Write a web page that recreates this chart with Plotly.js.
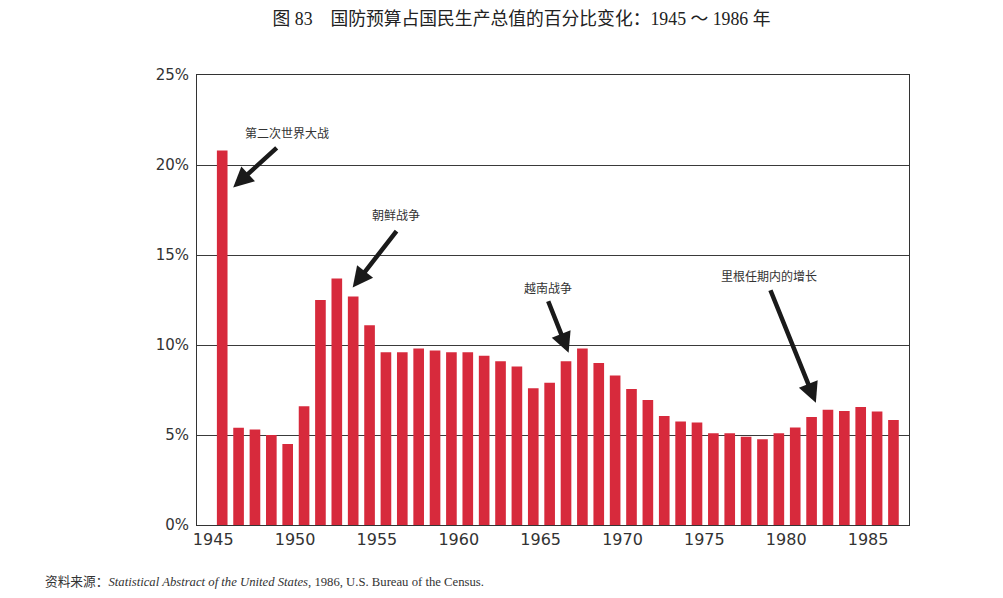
<!DOCTYPE html>
<html>
<head>
<meta charset="utf-8">
<script src="https://cdn.plot.ly/plotly-3.0.1.min.js"></script>
<style>html,body{margin:0;padding:0;background:#fff;}#chart{width:1003px;height:598px;}</style>
</head>
<body>
<div id="chart"></div>
<script>
// Data
const years = [1945,1946,1947,1948,1949,1950,1951,1952,1953,1954,1955,1956,1957,1958,1959,1960,1961,1962,1963,1964,1965,1966,1967,1968,1969,1970,1971,1972,1973,1974,1975,1976,1977,1978,1979,1980,1981,1982,1983,1984,1985,1986];
const defenseShare = [20.8,5.4,5.3,5.0,4.5,6.6,12.5,13.7,12.7,11.1,9.6,9.6,9.8,9.7,9.6,9.6,9.4,9.1,8.8,7.6,7.9,9.1,9.8,9.0,8.3,7.55,6.95,6.05,5.75,5.7,5.1,5.1,4.9,4.77,5.1,5.42,6.0,6.4,6.34,6.55,6.31,5.84];
const xTickYears = [1945,1950,1955,1960,1965,1970,1975,1980,1985];
const yTickValues = [0,5,10,15,20,25];
const yTickLabels = ["0%","5%","10%","15%","20%","25%"];
const eventLabels = ["第二次世界大战","朝鲜战争","越南战争","里根任期内的增长"];
const titleText = "图 83　国防预算占国民生产总值的百分比变化：1945 ～ 1986 年";
const sourceText = "资料来源：<i>Statistical Abstract of the United States</i>, 1986, U.S. Bureau of the Census.";

const cjk = '"Noto Sans CJK SC", sans-serif';
const serif = '"Liberation Serif", "Noto Sans CJK SC", serif';
const axisFont = {family: '"DejaVu Sans", sans-serif', size: 16, color: '#333'};

const trace = {
  type: 'bar',
  x: years,
  y: defenseShare,
  marker: {color: '#d72a3c', line: {width: 0}},
  width: 0.65,
  hoverinfo: 'x+y'
};

function arrow(x, y, ax, ay) {
  return {x: x, y: y, xref: 'x', yref: 'y', ax: ax, ay: ay, axref: 'pixel', ayref: 'pixel',
    showarrow: true, arrowhead: 2, arrowsize: 0.9, arrowwidth: 4.5, arrowcolor: '#1a1a1a', text: ''};
}
function label(text, x, y) {
  return {x: x, y: y, xref: 'x', yref: 'y', text: text, showarrow: false,
    font: {family: cjk, size: 12, color: '#333'}, xanchor: 'center', yanchor: 'middle'};
}

const layout = {
  width: 1003, height: 598,
  margin: {l: 197, r: 94, t: 75, b: 73},
  paper_bgcolor: '#ffffff', plot_bgcolor: '#ffffff',
  showlegend: false,
  bargap: 0.35,
  title: {text: titleText, x: 0.52, xref: 'container', y: 0.968, yref: 'container', yanchor: 'middle', xanchor: 'center',
    font: {family: serif, size: 17.8, color: '#222'}},
  xaxis: {
    range: [1943.46, 1986.95],
    tickvals: xTickYears,
    ticktext: xTickYears.map(String),
    ticklabelshift: -9,
    ticks: '',
    showgrid: false,
    zeroline: false,
    showline: true, linecolor: '#333', linewidth: 1, mirror: true,
    tickfont: axisFont
  },
  yaxis: {
    range: [0, 25],
    tickvals: yTickValues,
    ticktext: yTickLabels,
    ticks: '',
    ticklabelstandoff: 4,
    showgrid: true, gridcolor: '#3a3a3a', gridwidth: 1,
    zeroline: false,
    showline: true, linecolor: '#333', linewidth: 1, mirror: true,
    tickfont: {family: '"DejaVu Sans", sans-serif', size: 15, color: '#333'}
  },
  annotations: [
    arrow(1945.67, 18.75, 45, -41),
    arrow(1952.97, 13.19, 45, -58),
    arrow(1966.16, 9.57, -21, -53),
    arrow(1981.26, 6.79, -46, -114),
    label(eventLabels[0], 1948.94, 21.8),
    label(eventLabels[1], 1955.6, 17.25),
    label(eventLabels[2], 1964.9, 13.17),
    label(eventLabels[3], 1978.41, 13.86),
    {text: sourceText, xref: 'paper', yref: 'paper', x: -0.216, y: -0.1267, xanchor: 'left', yanchor: 'middle',
     showarrow: false, font: {family: serif, size: 12.7, color: '#333'}}
  ]
};

Plotly.newPlot('chart', [trace], layout, {displayModeBar: false, staticPlot: true});
</script>
</body>
</html>
